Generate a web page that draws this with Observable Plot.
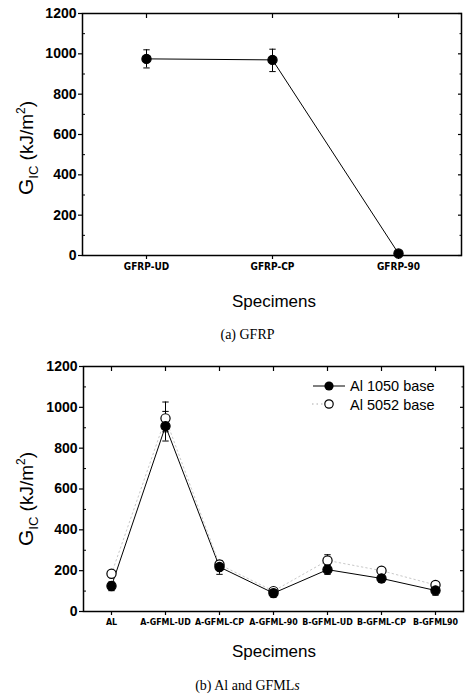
<!DOCTYPE html>
<html>
<head>
<meta charset="utf-8">
<script src="https://cdn.jsdelivr.net/npm/d3@7"></script>
<script src="https://cdn.jsdelivr.net/npm/@observablehq/plot@0.6"></script>
<style>
  html, body { margin: 0; padding: 0; background: #fff; }
  #wrap { position: relative; width: 467px; height: 698px; overflow: hidden; }
  .panel { position: absolute; left: 0; }
  .cap { position: absolute; left: 0; width: 467px; text-align: center;
         font-family: "Liberation Serif", "DejaVu Serif", serif; font-size: 14px; color: #000; }
  g[aria-label="y-axis tick label"] text { font-family: "Liberation Sans", Arial, sans-serif; font-weight: bold; }
  g[aria-label="x-axis tick label"] text { font-family: "DejaVu Sans Condensed", "DejaVu Sans", sans-serif; font-weight: bold; font-stretch: condensed; }
</style>
</head>
<body>
<div id="wrap">
  <div id="p1" class="panel" style="top:0px"></div>
  <div class="cap" style="top:327px;left:14px">(a) GFRP</div>
  <div id="p2" class="panel" style="top:349px"></div>
  <div class="cap" style="top:678px;left:14px">(b) Al and GF<span>ML</span><i>s</i></div>
</div>
<script>
// ---------- data ----------
const gfrpCats = ["GFRP-UD", "GFRP-CP", "GFRP-90"];
const gfrpVals = [975, 970, 10];
const gfrpLo   = [930, 912, null];
const gfrpHi   = [1020, 1023, null];

const gfmlCats = ["AL", "A-GFML-UD", "A-GFML-CP", "A-GFML-90", "B-GFML-UD", "B-GFML-CP", "B-GFML90"];
const al1050   = [125, 908, 218, 90, 205, 162, 103];
const al1050Lo = [102, 835, 182, 70, 182, 142, 80];
const al1050Hi = [145, 980, 250, 105, 225, 180, 120];
const al5052   = [185, 946, 230, 100, 250, 200, 130];
const al5052Lo = [172, 880, 215, 92, 228, 188, 118];
const al5052Hi = [198, 1026, 245, 110, 278, 212, 142];

const yTicks = [0, 200, 400, 600, 800, 1000, 1200];
const yMinor = [100, 300, 500, 700, 900, 1100];
const legendLabels = ["Al 1050 base", "Al 5052 base"];

// cap symbol for error bars
const capSymbol = { draw(ctx, size) { const r = Math.sqrt(size / Math.PI); ctx.moveTo(-r, 0); ctx.lineTo(r, 0); } };

const sansFont = '"Liberation Sans", Arial, sans-serif';
const noText = () => "";

function makePanel({cats, series, height, marginTop, marginLeft, marginRight, marginBottom, catFont}) {
  const marks = [];
  for (const s of series) {
    const rows = cats.map((c, i) => ({c, v: s.vals[i], lo: s.lo[i], hi: s.hi[i]}));
    const eb = rows.filter(d => d.lo != null);
    marks.push(Plot.ruleX(eb, {x: "c", y1: "lo", y2: "hi", stroke: "#000", strokeWidth: 1}));
    marks.push(Plot.dot(eb, {x: "c", y: "lo", symbol: capSymbol, r: 3.2, stroke: "#000", strokeWidth: 1}));
    marks.push(Plot.dot(eb, {x: "c", y: "hi", symbol: capSymbol, r: 3.2, stroke: "#000", strokeWidth: 1}));
  }
  for (const s of series) {
    const rows = cats.map((c, i) => ({c, v: s.vals[i]}));
    marks.push(Plot.line(rows, {x: "c", y: "v", stroke: s.lineColor, strokeWidth: 1, strokeDasharray: s.dash}));
  }
  for (const s of series.slice().reverse()) {
    const rows = cats.map((c, i) => ({c, v: s.vals[i]}));
    marks.push(Plot.dot(rows, {x: "c", y: "v", r: 4.6, fill: s.fill, stroke: "#000", strokeWidth: 1.2}));
  }
  return Plot.plot({
    width: 467, height, marginTop, marginLeft, marginRight, marginBottom,
    style: {background: "#fff", color: "#000", overflow: "visible"},
    x: {type: "point", domain: cats, padding: 0.5, label: null},
    y: {domain: [0, 1200], label: null},
    marks: [
      Plot.frame({stroke: "#000", strokeWidth: 1.5}),
      Plot.axisY({ticks: yTicks, tickSize: 4, tickPadding: 2, label: null, tickFormat: d => String(d),
        fontSize: 14, strokeWidth: 1.2}),
      Plot.axisY({ticks: yMinor, tickSize: -3, tickFormat: noText, label: null, strokeWidth: 1}),
      Plot.axisY({anchor: "right", ticks: yTicks, tickSize: -4, tickFormat: noText, label: null, strokeWidth: 1.2}),
      Plot.axisY({anchor: "right", ticks: yMinor, tickSize: -2.5, tickFormat: noText, label: null, strokeWidth: 1}),
      Plot.axisX({tickSize: 4, tickPadding: 3, label: null, strokeWidth: 1.2, fontSize: catFont}),
      Plot.axisX({anchor: "top", tickSize: -4, tickFormat: noText, label: null, strokeWidth: 1.2}),
      ...marks
    ]
  });
}

function decorate(svg, {labelY, labelX, specY}) {
  const s = d3.select(svg);
  const t = s.append("text")
    .attr("transform", `translate(${labelX},${labelY}) rotate(-90)`)
    .attr("text-anchor", "middle")
    .attr("font-family", sansFont)
    .attr("font-size", 19).attr("fill", "#000");
  t.append("tspan").attr("font-size", 21).text("G");
  t.append("tspan").attr("font-size", 13).attr("dy", 5).text("IC");
  t.append("tspan").attr("dy", -5).text(" (kJ/m");
  t.append("tspan").attr("font-size", 12).attr("dy", -8).text("2");
  t.append("tspan").attr("dy", 8).text(")");
  s.append("text").attr("x", 274).attr("y", specY).attr("text-anchor", "middle")
    .attr("font-family", sansFont).attr("font-size", 17).attr("fill", "#000")
    .text("Specimens");
  return s;
}

// ---------- panel (a) ----------
const p1 = makePanel({
  cats: gfrpCats,
  series: [{vals: gfrpVals, lo: gfrpLo, hi: gfrpHi, fill: "#000", lineColor: "#000", dash: null}],
  height: 320, marginTop: 13, marginLeft: 82, marginRight: 6, marginBottom: 65, catFont: 10
});
decorate(p1, {labelX: 33, labelY: 148, specY: 307});
document.getElementById("p1").appendChild(p1);

// ---------- panel (b) ----------
const p2 = makePanel({
  cats: gfmlCats,
  series: [
    {vals: al1050, lo: al1050Lo, hi: al1050Hi, fill: "#000", lineColor: "#000", dash: null},
    {vals: al5052, lo: al5052Lo, hi: al5052Hi, fill: "#fff", lineColor: "#c8c8c8", dash: "1.5,3"}
  ],
  height: 325, marginTop: 17, marginLeft: 83, marginRight: 4, marginBottom: 63, catFont: 8.8
});
const s2 = decorate(p2, {labelX: 33, labelY: 150, specY: 308});
// legend
const lg = s2.append("g").attr("font-family", sansFont).attr("font-size", 14.5).attr("text-anchor", "start");
lg.append("line").attr("x1", 313).attr("x2", 345).attr("y1", 37).attr("y2", 37).attr("stroke", "#000");
lg.append("circle").attr("cx", 329).attr("cy", 37).attr("r", 4.6).attr("fill", "#000");
lg.append("line").attr("x1", 312).attr("x2", 323).attr("y1", 55).attr("y2", 55).attr("stroke", "#aaa").attr("stroke-dasharray", "1.5,3");
lg.append("circle").attr("cx", 329).attr("cy", 55).attr("r", 4.2).attr("fill", "#fff").attr("stroke", "#000").attr("stroke-width", 1.2);
lg.selectAll("text.lab").data(legendLabels).join("text").attr("x", 350).attr("y", (d, i) => 42 + i * 18.5)
  .attr("fill", "#000").text(d => d);
document.getElementById("p2").appendChild(p2);
</script>
</body>
</html>
